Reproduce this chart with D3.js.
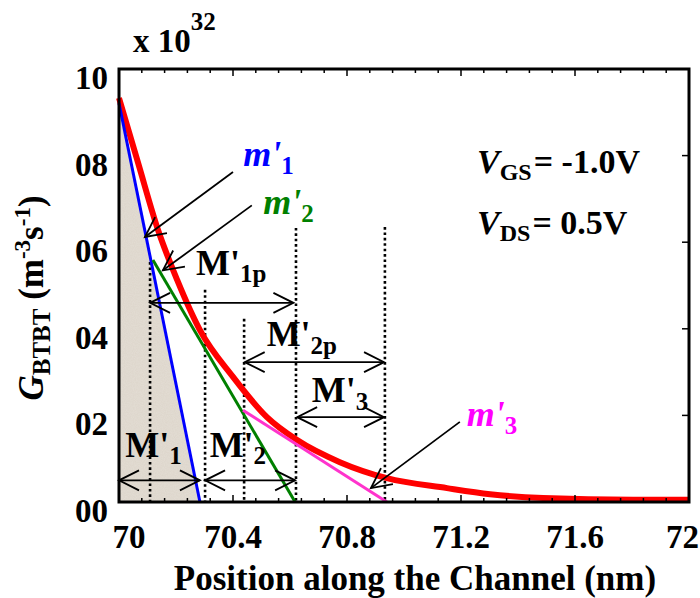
<!DOCTYPE html>
<html>
<head>
<meta charset="utf-8">
<script src="https://cdn.jsdelivr.net/npm/d3@7"></script>
<style>
  html, body { margin: 0; padding: 0; background: #fff; }
  svg { display: block; font-family: "Liberation Serif", "Times New Roman", serif; font-weight: bold; }
</style>
</head>
<body>
<svg id="chart" width="700" height="598"></svg>
<script>
// BTBT generation rate along the channel (units of 1e31 m^-3 s^-1)
const positionNm = [70.000, 70.067, 70.137, 70.204, 70.284, 70.400, 70.519, 70.625, 70.775, 70.940, 71.151, 71.302, 71.488, 71.804, 72.000];
const gBTBT      = [9.33, 7.83, 6.28, 5.13, 3.97, 2.89, 1.96, 1.43, 0.92, 0.55, 0.32, 0.18, 0.09, 0.05, 0.05];

// Tangent-line segments m'1, m'2, m'3: [x0, y0, x1, y1]
const tangentM1 = [70.000, 9.21, 70.284, 0];
const tangentM2 = [70.119, 5.59, 70.618, 0];
const tangentM3 = [70.435, 2.12, 70.940, 0];

// Dotted guide lines: position and top value
const guideX   = [70.109, 70.302, 70.439, 70.621, 70.933];
const guideTop = [5.54, 4.90, 4.23, 6.33, 6.35];

// Span arrows: [x0, x1, y]
const spanNames = ["M'1", "M'2", "M'1p", "M'2p", "M'3"];
const spanSegs  = [[70.000, 70.284, 0.50], [70.302, 70.618, 0.50], [70.109, 70.612, 4.60], [70.441, 70.930, 3.23], [70.625, 70.930, 1.96]];

// Axis ticks
const xTicks = [70, 70.4, 70.8, 71.2, 71.6, 72];
const xTickLabels = ["70", "70.4", "70.8", "71.2", "71.6", "72"];
const yTicks = [0, 2, 4, 6, 8, 10];
const yTickLabels = ["00", "02", "04", "06", "08", "10"];

const svg = d3.select("#chart");
const x = d3.scaleLinear().domain([70, 72]).range([119, 689]);
const y = d3.scaleLinear().domain([0, 10]).range([502, 69]);

// grainy fill for the area under m'1
const defs = svg.append("defs");
const filt = defs.append("filter").attr("id", "grain").attr("x", 0).attr("y", 0).attr("width", 1).attr("height", 1);
filt.append("feTurbulence").attr("type", "fractalNoise").attr("baseFrequency", 0.9).attr("numOctaves", 2).attr("seed", 3).attr("result", "n");
filt.append("feColorMatrix").attr("in", "n").attr("type", "matrix")
  .attr("values", "0 0 0 0 0.86  0 0 0 0 0.83  0 0 0 0 0.79  0 0 0 0.35 0").attr("result", "c");
filt.append("feComposite").attr("in", "c").attr("in2", "SourceGraphic").attr("operator", "in").attr("result", "t");
filt.append("feMerge").call(m => { m.append("feMergeNode").attr("in", "SourceGraphic"); m.append("feMergeNode").attr("in", "t"); });

svg.append("path")
  .attr("d", d3.line()([[x(70), y(0)], [x(tangentM1[0]), y(tangentM1[1])], [x(tangentM1[2]), y(tangentM1[3])]]) + "Z")
  .attr("fill", "#ddd5ca").attr("filter", "url(#grain)");

// dotted guides
guideX.forEach((gx, i) => {
  svg.append("line")
    .attr("x1", x(gx)).attr("x2", x(gx)).attr("y1", y(guideTop[i])).attr("y2", y(0))
    .attr("stroke", "#000").attr("stroke-width", 2.6).attr("stroke-dasharray", "2.6,2.8");
});

// red curve
svg.append("path")
  .datum(positionNm.map((p, i) => [p, gBTBT[i]]))
  .attr("d", d3.line().curve(d3.curveMonotoneX).x(d => x(d[0])).y(d => y(d[1])))
  .attr("fill", "none").attr("stroke", "#ff0000").attr("stroke-width", 6).attr("stroke-linejoin", "round");

// tangent lines
[[tangentM1, "#0000ff"], [tangentM2, "#008000"], [tangentM3, "#ff33cc"]].forEach(([s, c]) => {
  svg.append("line")
    .attr("x1", x(s[0])).attr("y1", y(s[1])).attr("x2", x(s[2])).attr("y2", y(s[3]))
    .attr("stroke", c).attr("stroke-width", 3);
});

// open arrow head at (px,py) pointing along angle ang (radians)
function head(px, py, ang, len = 20, half = 10) {
  const bx = px - len * Math.cos(ang), by = py - len * Math.sin(ang);
  const nx = -Math.sin(ang) * half, ny = Math.cos(ang) * half;
  svg.append("path")
    .attr("d", `M${bx + nx},${by + ny}L${px},${py}L${bx - nx},${by - ny}`)
    .attr("fill", "none").attr("stroke", "#000").attr("stroke-width", 1.8);
}

// span arrows
spanSegs.forEach(([a, b, v]) => {
  const x0 = x(a), x1 = x(b), yy = y(v);
  svg.append("line").attr("x1", x0).attr("x2", x1).attr("y1", yy).attr("y2", yy)
    .attr("stroke", "#000").attr("stroke-width", 1.8);
  head(x0, yy, Math.PI);
  head(x1, yy, 0);
});

// pointer arrows to the tangents
const pointers = [[70.400, 7.62, 70.091, 6.12], [70.466, 6.85, 70.154, 5.35], [71.196, 1.85, 70.884, 0.32]];
pointers.forEach(([a, b, c, d]) => {
  const x0 = x(a), y0 = y(b), x1 = x(c), y1 = y(d);
  svg.append("line").attr("x1", x0).attr("y1", y0).attr("x2", x1).attr("y2", y1)
    .attr("stroke", "#000").attr("stroke-width", 1.8);
  head(x1, y1, Math.atan2(y1 - y0, x1 - x0));
});

// text helper: parts = [[text, {attrs}], ...]
function rich(px, py, parts, size, fill = "#000", anchor = "start") {
  const t = svg.append("text").attr("x", px).attr("y", py).attr("font-size", size)
    .attr("fill", fill).attr("text-anchor", anchor);
  parts.forEach(([s, o]) => {
    const ts = t.append("tspan").text(s);
    if (o) Object.entries(o).forEach(([k, v]) => ts.attr(k, v));
  });
  return t;
}

// span labels
const sub = sz => ({ "font-size": sz, dy: sz * 0.3 });
rich(x(70.022), y(1.05), [["M'"], ["1", sub(25)]], 36);
rich(x(70.318), y(1.05), [["M'"], ["2", sub(25)]], 36);
rich(x(70.270), y(5.25), [["M'"], ["1p", sub(25)]], 36);
rich(x(70.518), y(3.60), [["M'"], ["2p", sub(25)]], 36);
rich(x(70.676), y(2.30), [["M'"], ["3", sub(25)]], 36);

// tangent labels
rich(x(70.436), y(7.75), [["m'", { "font-style": "italic" }], ["1", sub(25)]], 36, "#0000ff");
rich(x(70.506), y(6.65), [["m'", { "font-style": "italic" }], ["2", sub(25)]], 36, "#008000");
rich(x(71.220), y(1.75), [["m'", { "font-style": "italic" }], ["3", sub(25)]], 36, "#ff00ff");

// bias conditions
rich(477, 173, [["V", { "font-style": "italic" }], ["GS", { "font-size": 24, dy: 7 }], ["= -1.0V", { dy: -7, dx: 2 }]], 34);
rich(477, 234, [["V", { "font-style": "italic" }], ["DS", { "font-size": 24, dy: 7 }], ["= 0.5V", { dy: -7, dx: 2 }]], 34);

// frame
svg.append("rect").attr("x", 119).attr("y", 69).attr("width", 570).attr("height", 433)
  .attr("fill", "none").attr("stroke", "#000").attr("stroke-width", 3);

// x ticks (major + minor), bottom and top, inward
const minorX = d3.range(0, 26).map(i => 70 + i * 0.08);
minorX.forEach(v => {
  const major = xTicks.some(t => Math.abs(t - v) < 1e-6);
  const len = major ? 7 : 4;
  svg.append("line").attr("x1", x(v)).attr("x2", x(v)).attr("y1", y(0)).attr("y2", y(0) - len)
    .attr("stroke", "#000").attr("stroke-width", 1.5);
  svg.append("line").attr("x1", x(v)).attr("x2", x(v)).attr("y1", y(10)).attr("y2", y(10) + len)
    .attr("stroke", "#000").attr("stroke-width", 1.5);
});
yTicks.forEach(v => {
  svg.append("line").attr("x1", x(72)).attr("x2", x(72) - 7).attr("y1", y(v)).attr("y2", y(v))
    .attr("stroke", "#000").attr("stroke-width", 1.5);
});

// tick labels
xTicks.forEach((v, i) => {
  const last = i === xTicks.length - 1;
  svg.append("text").attr("x", last ? 699 : x(v) + (i === 0 ? 10 : 0)).attr("y", 548)
    .attr("text-anchor", last ? "end" : "middle")
    .attr("font-size", 33).text(xTickLabels[i]);
});
yTicks.forEach((v, i) => {
  svg.append("text").attr("x", 108).attr("y", y(v) + 20).attr("text-anchor", "end")
    .attr("font-size", 33).text(yTickLabels[i]);
});

// axis titles
svg.append("text").attr("x", 415).attr("y", 590).attr("text-anchor", "middle")
  .attr("font-size", 35).text("Position along the Channel (nm)");

const yt = svg.append("text").attr("transform", "translate(43,298) rotate(-90)")
  .attr("text-anchor", "middle").attr("font-size", 35);
yt.append("tspan").attr("font-style", "italic").text("G");
yt.append("tspan").attr("font-size", 25).attr("dy", 7).text("BTBT");
yt.append("tspan").attr("dy", -7).text(" (m");
yt.append("tspan").attr("font-size", 23).attr("dy", -13).text("-3");
yt.append("tspan").attr("dy", 13).text("s");
yt.append("tspan").attr("font-size", 23).attr("dy", -13).text("-1");
yt.append("tspan").attr("dy", 13).text(")");

// exponent
rich(133, 52, [["x 10"], ["32", { "font-size": 25, dy: -22 }]], 33);
</script>
</body>
</html>
